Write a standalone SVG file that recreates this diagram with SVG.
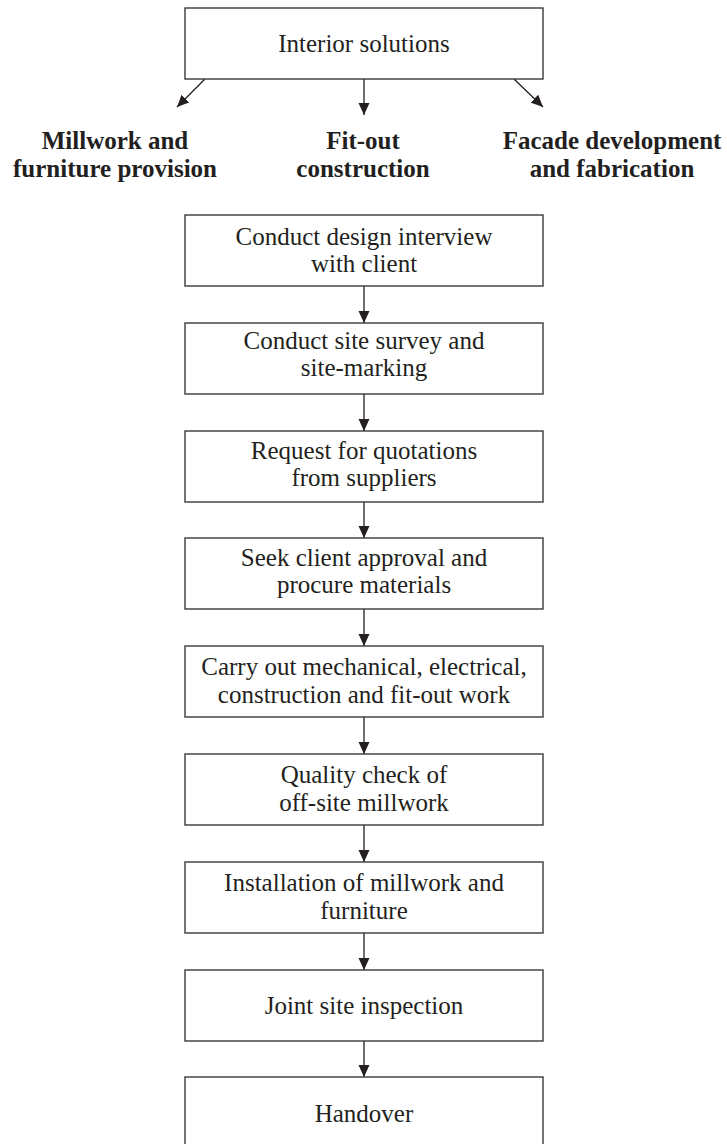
<svg xmlns="http://www.w3.org/2000/svg" width="727" height="1144" viewBox="0 0 727 1144">
<style>
.box{fill:#fff;stroke:#3a3a3a;stroke-width:1.4}
.t{font-family:"Liberation Serif","Times New Roman",serif;font-size:25px;fill:#231f20;text-anchor:middle}
.b{font-family:"Liberation Serif","Times New Roman",serif;font-size:25px;font-weight:bold;fill:#231f20;text-anchor:middle}
.c{stroke:#231f20;stroke-width:1.3;fill:none;marker-end:url(#ah)}
</style>
<defs>
<marker id="ah" markerUnits="userSpaceOnUse" markerWidth="12" markerHeight="12" viewBox="0 0 12 12" refX="12" refY="6" orient="auto">
<path d="M0,0.5 L12,6 L0,11.5 Z" fill="#231f20"/>
</marker>
</defs>
<rect width="727" height="1144" fill="#fff"/>
<g id="connectors">
<line class="c" x1="205" y1="79" x2="177" y2="107"/>
<line class="c" x1="364" y1="79" x2="364" y2="115"/>
<line class="c" x1="514" y1="79" x2="543" y2="107"/>
<line class="c" x1="364" y1="286" x2="364" y2="323"/>
<line class="c" x1="364" y1="394" x2="364" y2="431"/>
<line class="c" x1="364" y1="502" x2="364" y2="538"/>
<line class="c" x1="364" y1="609" x2="364" y2="646"/>
<line class="c" x1="364" y1="717" x2="364" y2="754"/>
<line class="c" x1="364" y1="825" x2="364" y2="862"/>
<line class="c" x1="364" y1="933" x2="364" y2="970"/>
<line class="c" x1="364" y1="1041" x2="364" y2="1077"/>
</g>
<g id="interior-solutions">
<rect class="box" x="185" y="8" width="358" height="71"/>
<text class="t" x="364" y="52">Interior solutions</text>
</g>
<g id="millwork">
<text class="b" x="115" y="149">Millwork and</text>
<text class="b" x="115" y="177">furniture provision</text>
</g>
<g id="fitout">
<text class="b" x="363" y="149">Fit-out</text>
<text class="b" x="363" y="177">construction</text>
</g>
<g id="facade">
<text class="b" x="612" y="149">Facade development</text>
<text class="b" x="612" y="177">and fabrication</text>
</g>
<g id="step1">
<rect class="box" x="185" y="215" width="358" height="71"/>
<text class="t" x="364" y="245">Conduct design interview</text>
<text class="t" x="364" y="272">with client</text>
</g>
<g id="step2">
<rect class="box" x="185" y="323" width="358" height="71"/>
<text class="t" x="364" y="349">Conduct site survey and</text>
<text class="t" x="364" y="376">site-marking</text>
</g>
<g id="step3">
<rect class="box" x="185" y="431" width="358" height="71"/>
<text class="t" x="364" y="459">Request for quotations</text>
<text class="t" x="364" y="486">from suppliers</text>
</g>
<g id="step4">
<rect class="box" x="185" y="538" width="358" height="71"/>
<text class="t" x="364" y="566">Seek client approval and</text>
<text class="t" x="364" y="593">procure materials</text>
</g>
<g id="step5">
<rect class="box" x="185" y="646" width="358" height="71"/>
<text class="t" x="364" y="675">Carry out mechanical, electrical,</text>
<text class="t" x="364" y="703">construction and fit-out work</text>
</g>
<g id="step6">
<rect class="box" x="185" y="754" width="358" height="71"/>
<text class="t" x="364" y="783">Quality check of</text>
<text class="t" x="364" y="811">off-site millwork</text>
</g>
<g id="step7">
<rect class="box" x="185" y="862" width="358" height="71"/>
<text class="t" x="364" y="891">Installation of millwork and</text>
<text class="t" x="364" y="919">furniture</text>
</g>
<g id="step8">
<rect class="box" x="185" y="970" width="358" height="71"/>
<text class="t" x="364" y="1014">Joint site inspection</text>
</g>
<g id="step9">
<rect class="box" x="185" y="1077" width="358" height="71"/>
<text class="t" x="364" y="1122">Handover</text>
</g>
</svg>
